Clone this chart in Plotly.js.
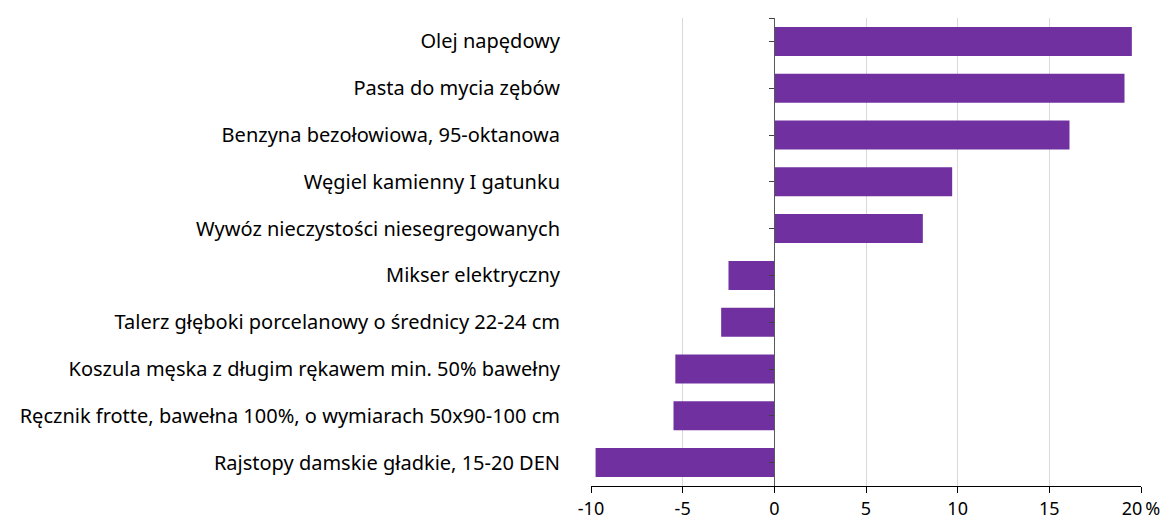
<!DOCTYPE html>
<html>
<head>
<meta charset="utf-8">
<script src="https://cdn.plot.ly/plotly-3.0.1.min.js"></script>
<style>html,body{margin:0;padding:0;background:#fff;}#chart{width:1176px;height:522px;}</style>
</head>
<body>
<div id="chart"></div>
<script>
const categories = [
  "Olej napędowy",
  "Pasta do mycia zębów",
  "Benzyna bezołowiowa, 95-oktanowa",
  "Węgiel kamienny I gatunku",
  "Wywóz nieczystości niesegregowanych",
  "Mikser elektryczny",
  "Talerz głęboki porcelanowy o średnicy 22-24 cm",
  "Koszula męska z długim rękawem min. 50% bawełny",
  "Ręcznik frotte, bawełna 100%, o wymiarach 50x90-100 cm",
  "Rajstopy damskie gładkie, 15-20 DEN"
];
const values = [19.5, 19.1, 16.1, 9.7, 8.1, -2.5, -2.9, -5.4, -5.5, -9.75];
const xTickVals = [-10, -5, 0, 5, 10, 15, 20];
const xTickText = ["-10", "-5", "0", "5", "10", "15", "20\u2009%"];

const FONT = "'Noto Sans', 'Open Sans', sans-serif";
const xMin = -10, xMax = 20;
const yRange = [categories.length - 0.5, -0.5];
const y2Ticks = categories.map((c, i) => i).concat([-0.5]);

const traces = [
  {
    type: "bar", orientation: "h",
    x: values, y: categories,
    marker: { color: "#7030a0", line: { width: 0 } },
    width: 0.62,
    hoverinfo: "x+y", showlegend: false
  },
  {
    type: "bar", orientation: "h",
    x: values.map(() => 0), y: categories,
    yaxis: "y2",
    marker: { color: "rgba(0,0,0,0)" },
    hoverinfo: "skip", showlegend: false
  }
];

const layout = {
  width: 1176, height: 522,
  margin: { l: 591, r: 35, t: 18, b: 36, pad: 0 },
  paper_bgcolor: "#ffffff", plot_bgcolor: "#ffffff",
  font: { family: FONT, size: 20, color: "#000000" },
  showlegend: false,
  xaxis: {
    range: [xMin, xMax],
    tickmode: "array", tickvals: xTickVals, ticktext: xTickText,
    showgrid: true, gridcolor: "#d9d9d9", gridwidth: 1,
    zeroline: false,
    showline: true, linecolor: "#000000", linewidth: 1,
    ticks: "outside", ticklen: 6, tickcolor: "#000000", tickwidth: 1,
    tickfont: { family: FONT, size: 18, color: "#000000" },
    fixedrange: true
  },
  yaxis: {
    type: "category",
    categoryorder: "array", categoryarray: categories,
    range: yRange,
    showgrid: false, zeroline: false, showline: false,
    ticks: "outside", ticklen: 26, tickcolor: "rgba(0,0,0,0)",
    tickfont: { family: FONT, size: 20, color: "#000000" },
    fixedrange: true
  },
  yaxis2: {
    type: "category",
    categoryorder: "array", categoryarray: categories,
    overlaying: "y", anchor: "free", side: "left",
    position: (0 - xMin) / (xMax - xMin),
    range: yRange,
    tickmode: "array", tickvals: y2Ticks,
    showgrid: false, zeroline: false,
    showline: true, linecolor: "#595959", linewidth: 1,
    ticks: "outside", ticklen: 5, tickcolor: "#404040", tickwidth: 1,
    showticklabels: false,
    fixedrange: true
  },
  bargap: 0.38
};

Plotly.newPlot("chart", traces, layout, { displayModeBar: false, staticPlot: true });
</script>
</body>
</html>
